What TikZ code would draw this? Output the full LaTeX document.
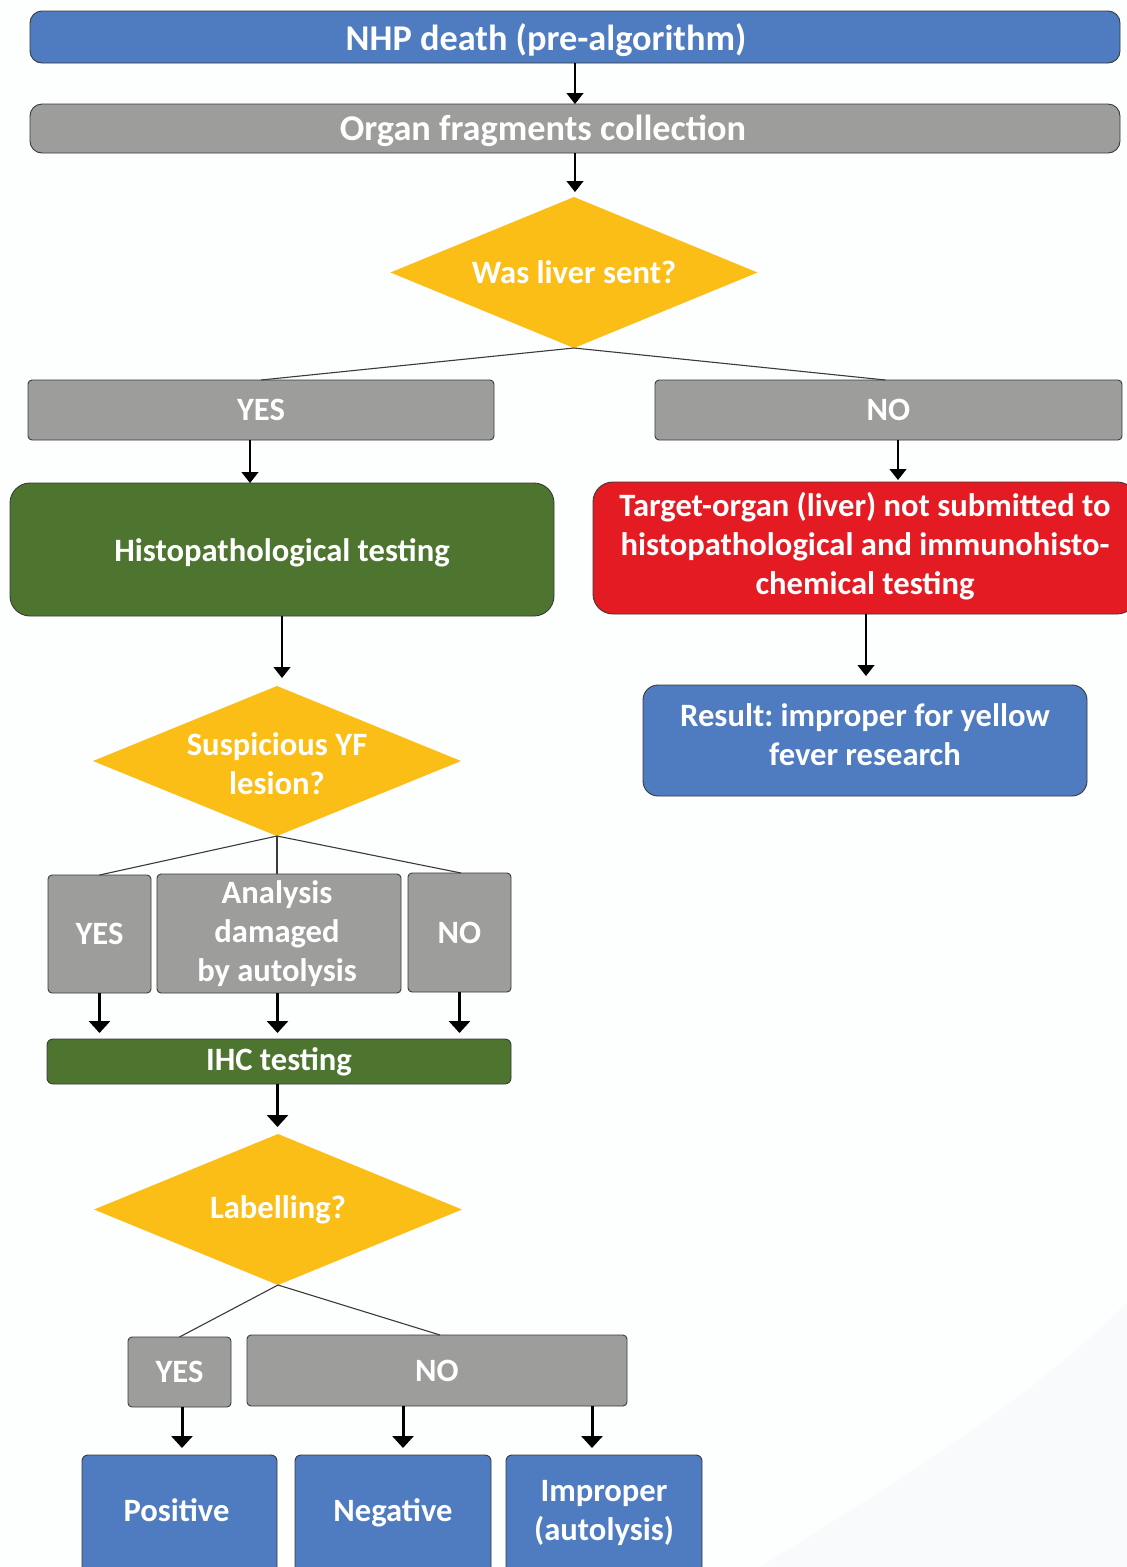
\documentclass[tikz,border=0pt]{standalone}
\usepackage{fontspec}
\setmainfont{Carlito}
\frenchspacing
\usetikzlibrary{arrows.meta,shapes.geometric}
\definecolor{cblue}{HTML}{4F7BC0}
\definecolor{cgray}{HTML}{9D9D9C}
\definecolor{cyel}{HTML}{FBBE17}
\definecolor{cgreen}{HTML}{4D7530}
\definecolor{cred}{HTML}{E41B22}
\definecolor{cedge}{HTML}{3A3A3A}
\definecolor{bgwhite}{HTML}{FDFEFE}
\definecolor{bgshade}{HTML}{F9FAFC}
\tikzset{
  box/.style={draw=cedge, line width=0.9pt, inner sep=0pt, outer sep=0pt, align=center},
  bluebox/.style={box, fill=cblue},
  graybox/.style={box, fill=cgray},
  greenbox/.style={box, fill=cgreen},
  redbox/.style={box, fill=cred},
  decision/.style={diamond, fill=cyel, inner sep=0pt, outer sep=0pt, align=center, aspect=2.43},
  bigtxt/.style={font=\bfseries\fontsize{36.3}{42}\selectfont},
  arr/.style={draw=black, line width=1.2pt, -{Triangle[width=17pt,length=11pt]}},
  thickarr/.style={draw=black, line width=3pt, -{Triangle[width=21pt,length=12pt]}},
  branch/.style={draw=cedge, line width=1.1pt},
}
\begin{document}
\begin{tikzpicture}[x=1pt,y=-1pt, font=\bfseries\fontsize{32.6}{39}\selectfont, text=white]
\useasboundingbox (0,0) rectangle (1127,1567);
\fill[bgwhite] (0,0) rectangle (1127,1567);
\fill[bgshade] (760,1567) .. controls (900,1480) and (1030,1400) .. (1127,1303) -- (1127,1567) -- cycle;

% top
\node[bluebox, rounded corners=12pt, minimum width=1090pt, minimum height=52pt,
  label={[xshift=-29pt, yshift=-3pt, bigtxt]center:NHP death (pre-algorithm)}] (title) at (575,37) {};
\node[graybox, rounded corners=12pt, minimum width=1090pt, minimum height=49pt,
  label={[xshift=-32pt, yshift=-2pt, bigtxt]center:Organ fragments collection}] (organ) at (575,128.5) {};
\node[decision, minimum width=367pt, minimum height=151pt] (d1) at (574,272.5) {Was liver sent?};

\node[graybox, rounded corners=4pt, minimum width=466pt, minimum height=60pt] (yes1) at (261,410) {YES};
\node[graybox, rounded corners=4pt, minimum width=467pt, minimum height=60pt] (no1) at (888.5,410) {NO};

\node[greenbox, rounded corners=20pt, minimum width=544pt, minimum height=133pt,
  label={[yshift=-3pt]center:Histopathological testing}] (histo) at (282,549.5) {};
\node[redbox, rounded corners=20pt, minimum width=544pt, minimum height=132pt,
  label={[yshift=2pt, align=center]center:Target-organ (liver) not submitted to\\histopathological and immunohisto-\\chemical testing}] (red) at (865,548) {};
\node[bluebox, rounded corners=15pt, minimum width=444pt, minimum height=111pt,
  label={[yshift=6pt, align=center]center:Result: improper for yellow\\fever research}] (result) at (865,740.5) {};

\node[decision, minimum width=368pt, minimum height=150pt,
  label={[yshift=-3pt, align=center]center:Suspicious YF\\lesion?}] (d2) at (277,761) {};

\node[graybox, rounded corners=4pt, minimum width=103pt, minimum height=118pt] (y2) at (99.5,934) {YES};
\node[graybox, rounded corners=4pt, minimum width=244pt, minimum height=119pt,
  label={[xshift=-2pt, align=center]center:Analysis\\damaged\\by autolysis}] (an) at (279,933.5) {};
\node[graybox, rounded corners=4pt, minimum width=103pt, minimum height=119pt] (n2) at (459.5,932.5) {NO};

\node[greenbox, rounded corners=6pt, minimum width=464pt, minimum height=45pt] (ihc) at (279,1061.5) {IHC testing};

\node[decision, minimum width=368pt, minimum height=151pt] (d3) at (278,1209.5) {Labelling?};

\node[graybox, rounded corners=4pt, minimum width=103pt, minimum height=70pt] (y3) at (179.5,1372) {YES};
\node[graybox, rounded corners=4pt, minimum width=380pt, minimum height=71pt] (n3) at (437,1370.5) {NO};

\node[bluebox, rounded corners=6pt, minimum width=195pt, minimum height=124pt,
  label={[xshift=-3pt, yshift=7pt]center:Positive}] (pos) at (179.5,1517) {};
\node[bluebox, rounded corners=6pt, minimum width=196pt, minimum height=124pt,
  label={[yshift=4pt]center:Negative}] (neg) at (393,1517) {};
\node[bluebox, rounded corners=6pt, minimum width=196pt, minimum height=124pt,
  label={[yshift=4pt, align=center]center:Improper\\(autolysis)}] (imp) at (604,1517) {};

% connectors
\draw[arr] (title.south) -- (organ.north);
\draw[arr] (organ.south) -- ([yshift=5pt]organ.south |- d1.north);
\draw[branch] (d1.south) -- (yes1.north);
\draw[branch] (d1.south) -- ([xshift=-3pt]no1.north);
\draw[arr] ([xshift=-11pt]yes1.south) -- ([xshift=-11pt]yes1.south |- histo.north);
\draw[arr] ([xshift=9.5pt]no1.south) -- ([xshift=9.5pt,yshift=2pt]no1.south |- red.north);
\draw[arr] (histo.south) -- ([yshift=8pt]histo.south |- d2.north);
\draw[arr] ([xshift=1pt]red.south) -- ([xshift=1pt,yshift=9pt]red.south |- result.north);
\draw[branch] (d2.south) -- (y2.north);
\draw[branch] (d2.south) -- (d2.south |- an.north);
\draw[branch] (d2.south) -- ([xshift=1.5pt]n2.north);
\draw[thickarr] (y2.south) -- ([yshift=6pt]y2.south |- ihc.north);
\draw[thickarr] ([xshift=-1.5pt]an.south) -- ([xshift=-1.5pt,yshift=6pt]an.south |- ihc.north);
\draw[thickarr] (n2.south) -- ([yshift=6pt]n2.south |- ihc.north);
\draw[thickarr] ([xshift=-1.5pt]ihc.south) -- ([xshift=-1.5pt,yshift=7pt]ihc.south |- d3.north);
\draw[branch] (d3.south) -- (y3.north);
\draw[branch] (d3.south) -- ([xshift=3pt]n3.north);
\draw[thickarr] ([xshift=2.5pt]y3.south) -- ([xshift=2.5pt,yshift=7pt]y3.south |- pos.north);
\draw[thickarr] ([xshift=-34pt]n3.south) -- ([xshift=-34pt,yshift=7pt]n3.south |- neg.north);
\draw[thickarr] ([xshift=155pt]n3.south) -- ([xshift=155pt,yshift=7pt]n3.south |- imp.north);
\end{tikzpicture}
\end{document}
